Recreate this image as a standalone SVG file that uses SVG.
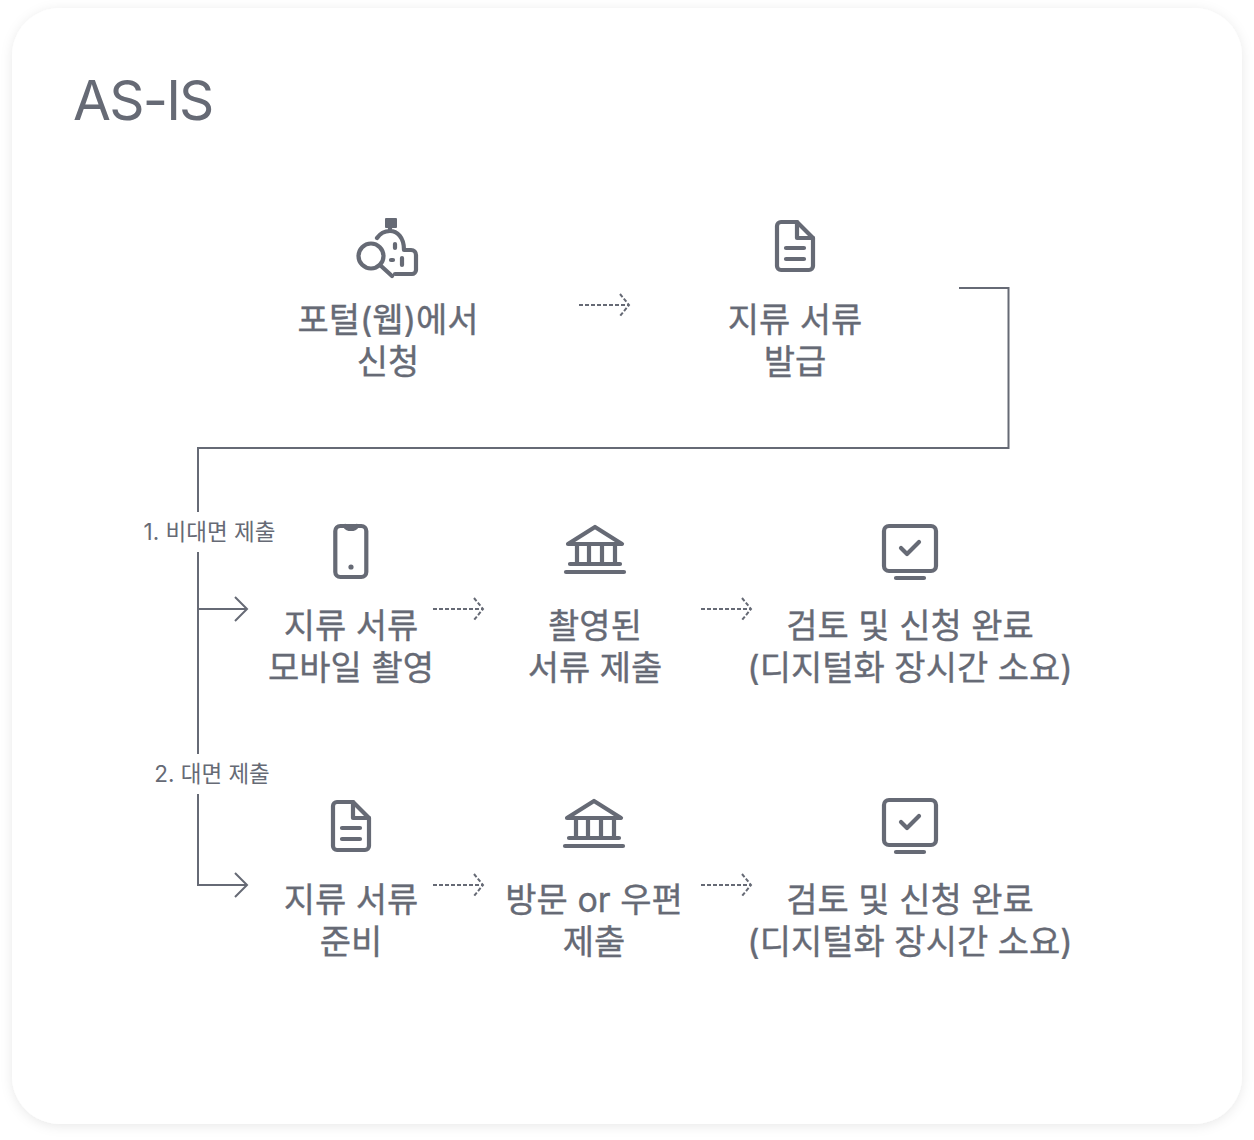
<svg xmlns="http://www.w3.org/2000/svg" width="1254" height="1140" viewBox="0 0 1254 1140">
<style>
text{font-family:"Inter","Noto Sans CJK KR","Noto Sans",sans-serif;fill:#666a75}
.t{font-size:34px;text-anchor:middle;stroke:#666a75;stroke-width:0.35}
.s{font-size:22.5px;text-anchor:middle}
.i{fill:none;stroke:#666a75;stroke-width:4.2;stroke-linecap:round;stroke-linejoin:round}
.c{fill:none;stroke:#666a75;stroke-width:2}
.d{fill:none;stroke:#666a75;stroke-width:2;stroke-dasharray:4 2}
</style>
<defs>
<filter id="sh" x="-5%" y="-5%" width="110%" height="110%"><feDropShadow dx="0" dy="2" stdDeviation="6" flood-color="#000" flood-opacity="0.09"/></filter>
<g id="doc" class="i"><path d="M-14 -24H2L18 -8V20A4 4 0 0 1 14 24H-14A4 4 0 0 1 -18 20V-20A4 4 0 0 1 -14 -24Z"/><path d="M2 -24V-8H18M-9 2H9M-9 13H9"/></g>
<g id="bank" class="i"><path d="M-27 -7L0 -24L27 -7ZM-18 -6V12M-6 -6V12M7 -6V12M20 -6V12M-25 13H25"/><path d="M-29 21H29"/></g>
<g id="mon" class="i"><rect x="-26" y="-24" width="52" height="45" rx="5"/><path d="M-9 -2L-3 4L9 -8M-14 28H14"/></g>
<g id="dash"><path class="d" d="M0 0H50M41 -11L50 0L41 11"/></g>
</defs>
<rect x="12" y="8" width="1230" height="1116" rx="48" fill="#fff" filter="url(#sh)"/>
<text id="title" x="73" y="120" style="font-size:55px;letter-spacing:-1.8px">AS-IS</text>
<g id="connectors">
<path class="c" d="M959 288H1008.500V448H198V512M198 552V754M198 794V885H246M198 609H246M235 597L247 609L235 621M235 873L247 885L235 897"/>
<use href="#dash" x="579" y="305"/>
<use href="#dash" x="433" y="609"/>
<use href="#dash" x="701" y="609"/>
<use href="#dash" x="433" y="885"/>
<use href="#dash" x="701" y="885"/>
</g>
<g id="n1"><g class="i"><circle cx="371" cy="256" r="12.500"/><path d="M380 265L392 276M377 238C381 232 386 231 390 231C397 231 404 237 404 250H411C414 250 416 252 416 255V270C416 272 414 274 412 274H395M390 231V226"/><path d="M395 244v4M391 260h2M402 258v7"/></g><rect x="385" y="218" width="12" height="10" rx="1" fill="#666a75"/><text class="t" x="388" y="332">포털(웹)에서</text><text class="t" x="388" y="374">신청</text></g>
<g id="n2"><use href="#doc" x="795" y="246"/><text class="t" x="795" y="332">지류 서류</text><text class="t" x="795" y="374">발급</text></g>
<g id="l1"><text class="s" x="209.500" y="540">1. 비대면 제출</text></g>
<g id="l2"><text class="s" x="212" y="782">2. 대면 제출</text></g>
<g id="n3"><g class="i"><rect x="335.300" y="526" width="31" height="51" rx="5"/><path d="M345 526Q347 529 351 529Q355 529 357 526"/></g><circle cx="351" cy="567" r="2.600" fill="#666a75"/><text class="t" x="351" y="638">지류 서류</text><text class="t" x="351" y="680">모바일 촬영</text></g>
<g id="n4"><use href="#bank" x="595" y="551"/><text class="t" x="595" y="638">촬영된</text><text class="t" x="595" y="680">서류 제출</text></g>
<g id="n5"><use href="#mon" x="910" y="550"/><text class="t" x="910" y="638">검토 및 신청 완료</text><text class="t" x="910" y="680">(디지털화 장시간 소요)</text></g>
<g id="n6"><use href="#doc" x="351" y="826"/><text class="t" x="351" y="912">지류 서류</text><text class="t" x="351" y="954">준비</text></g>
<g id="n7"><use href="#bank" x="594" y="825"/><text class="t" x="594" y="912">방문 or 우편</text><text class="t" x="594" y="954">제출</text></g>
<g id="n8"><use href="#mon" x="910" y="824"/><text class="t" x="910" y="912">검토 및 신청 완료</text><text class="t" x="910" y="954">(디지털화 장시간 소요)</text></g>
</svg>
